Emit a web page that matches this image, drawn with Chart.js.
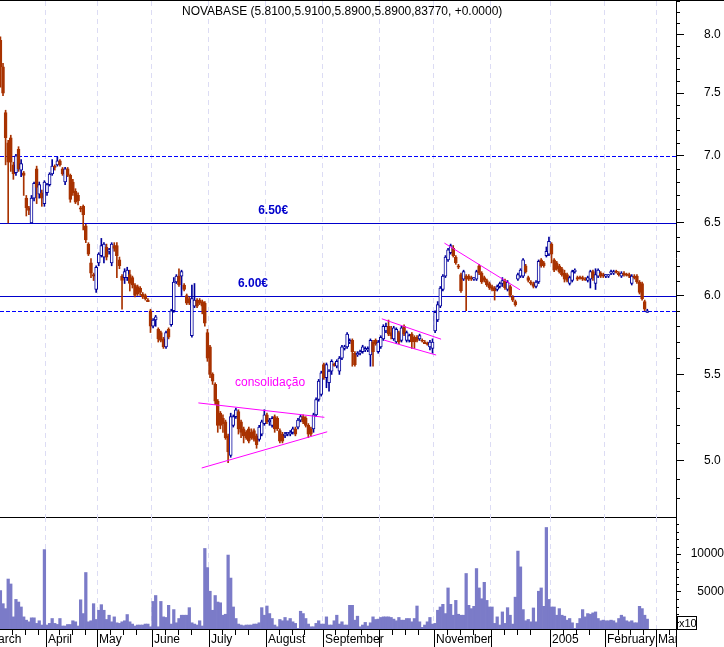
<!DOCTYPE html>
<html>
<head>
<meta charset="utf-8">
<script src="https://cdn.jsdelivr.net/npm/chart.js@4.4.1/dist/chart.umd.min.js"></script>
<style>
  html, body { margin: 0; padding: 0; background: #fff; }
  #wrap { position: relative; width: 724px; height: 647px; overflow: hidden; }
  #priceBox { position: absolute; left: 0; top: 0; width: 724px; height: 518px; }
  #volBox { position: absolute; left: 0; top: 517px; width: 724px; height: 130px; }
</style>
</head>
<body>
<div id="wrap">
  <div id="priceBox"><canvas id="priceChart" width="724" height="518"></canvas></div>
  <div id="volBox"><canvas id="volChart" width="724" height="130"></canvas></div>
</div>
<script>
// daily NOVABASE quotes, Mar 2004 - Feb 2005 (index = trading day)
const opens = [
  7.95,7.72,7.34,7.10,7.14,6.93,6.87,7.05,6.89,6.87, 6.68,6.61,6.50,6.68,6.90,6.71,6.72,6.64,6.72,6.78,
  6.86,6.92,6.93,6.96,6.90,6.80,6.90,6.85,6.80,6.73, 6.70,6.61,6.62,6.48,6.35,6.22,6.14,6.04,6.22,6.27,
  6.26,6.33,6.30,6.22,6.34,6.34,6.24,6.13,6.12,6.12, 6.14,6.12,6.07,6.06,6.05,6.01,6.00,5.97,5.90,5.80,
  5.84,5.78,5.76,5.72,5.67,5.78,5.81,5.90,6.09,6.13, 6.13,6.07,6.00,5.98,5.74,5.93,5.97,5.97,5.96,5.95,
  5.76,5.67,5.50,5.44,5.34,5.27,5.24,5.22,5.14,5.03, 5.20,5.25,5.28,5.22,5.18,5.16,5.18,5.16,5.17,5.14,
  5.12,5.15,5.21,5.26,5.22,5.20,5.25,5.24,5.17,5.15, 5.14,5.15,5.15,5.16,5.18,5.19,5.23,5.25,5.24,5.20,
  5.18,5.18,5.26,5.35,5.38,5.56,5.48,5.45,5.52,5.56, 5.55,5.52,5.60,5.66,5.67,5.70,5.71,5.63,5.62,5.63,
  5.64,5.65,5.65,5.62,5.70,5.71,5.64,5.67,5.72,5.77, 5.80,5.76,5.72,5.70,5.76,5.71,5.80,5.71,5.71,5.75,
  5.73,5.73,5.72,5.71,5.70,5.69,5.67,5.66,5.77,5.84, 5.93,6.04,6.13,6.24,6.29,6.32,6.26,6.20,6.14,6.11,
  6.13,6.13,6.12,6.11,6.11,6.20,6.15,6.12,6.10,6.08, 6.06,6.05,6.04,6.06,6.08,6.10,6.04,6.06,5.99,5.96,
  6.11,6.13,6.13,6.20,6.12,6.09,6.08,6.06,6.09,6.24, 6.22,6.27,6.28,6.35,6.24,6.22,6.20,6.18,6.15,6.14,
  6.08,6.10,6.16,6.12,6.12,6.12,6.11,6.10,6.11,6.16, 6.08,6.13,6.15,6.14,6.13,6.13,6.15,6.15,6.16,6.15,
  6.13,6.15,6.14,6.14,6.08,6.13,6.13,6.09,6.08,5.96, 5.89
];
const highs = [
  7.98,7.75,7.36,7.12,7.16,6.95,7.01,7.07,6.97,6.88, 6.70,6.62,6.70,6.80,6.92,6.80,6.74,6.81,6.79,6.87,
  6.97,6.93,6.99,6.97,6.91,6.91,6.91,6.86,6.82,6.75, 6.72,6.62,6.63,6.49,6.36,6.25,6.15,6.20,6.29,6.39,
  6.36,6.35,6.32,6.36,6.36,6.36,6.26,6.14,6.18,6.19, 6.17,6.13,6.08,6.07,6.06,6.02,6.01,5.98,5.91,5.85,
  5.87,5.79,5.77,5.73,5.77,5.79,5.91,6.12,6.14,6.18, 6.17,6.08,6.01,5.99,6.07,6.08,5.98,5.98,5.97,5.96,
  5.78,5.68,5.51,5.45,5.35,5.28,5.26,5.23,5.15,5.27, 5.26,5.30,5.29,5.23,5.19,5.17,5.19,5.18,5.18,5.15,
  5.20,5.23,5.29,5.27,5.24,5.25,5.26,5.25,5.18,5.16, 5.16,5.16,5.17,5.19,5.19,5.24,5.26,5.26,5.25,5.21,
  5.19,5.27,5.36,5.47,5.52,5.57,5.57,5.53,5.59,5.57, 5.59,5.61,5.68,5.68,5.76,5.72,5.72,5.64,5.64,5.65,
  5.68,5.67,5.67,5.72,5.71,5.72,5.71,5.74,5.81,5.82, 5.84,5.80,5.80,5.79,5.77,5.80,5.81,5.77,5.75,5.76,
  5.74,5.74,5.75,5.72,5.71,5.70,5.71,5.72,5.90,5.96, 6.06,6.14,6.27,6.32,6.35,6.34,6.27,6.21,6.15,6.17,
  6.14,6.14,6.13,6.12,6.17,6.21,6.16,6.13,6.11,6.09, 6.07,6.06,6.07,6.09,6.12,6.11,6.10,6.07,6.00,5.97,
  6.15,6.18,6.25,6.21,6.13,6.10,6.09,6.10,6.24,6.25, 6.23,6.33,6.40,6.36,6.25,6.23,6.21,6.19,6.17,6.15,
  6.13,6.17,6.18,6.13,6.13,6.13,6.12,6.13,6.17,6.17, 6.18,6.18,6.16,6.15,6.14,6.14,6.17,6.17,6.17,6.16,
  6.16,6.16,6.15,6.15,6.14,6.14,6.14,6.10,6.09,5.97, 5.91
];
const lows = [
  7.55,7.48,6.93,6.50,6.88,6.82,6.85,6.88,6.84,6.70, 6.55,6.56,6.50,6.66,6.64,6.68,6.62,6.62,6.70,6.77,
  6.85,6.89,6.92,6.92,6.85,6.78,6.84,6.65,6.70,6.64, 6.63,6.58,6.45,6.36,6.27,6.12,6.10,6.02,6.20,6.26,
  6.22,6.24,6.28,6.20,6.30,6.12,6.18,5.91,6.08,6.10, 6.03,6.05,5.99,6.00,6.00,5.98,5.97,5.96,5.76,5.79,
  5.80,5.70,5.70,5.66,5.66,5.72,5.80,5.89,6.08,6.06, 6.00,6.03,5.94,5.94,5.73,5.92,5.92,5.94,5.88,5.80,
  5.58,5.48,5.44,5.32,5.16,5.18,5.16,5.12,4.99,5.02, 5.19,5.24,5.15,5.13,5.10,5.12,5.10,5.12,5.11,5.07,
  5.11,5.14,5.20,5.21,5.20,5.19,5.16,5.17,5.10,5.10, 5.13,5.14,5.14,5.15,5.14,5.18,5.22,5.21,5.19,5.13,
  5.14,5.16,5.25,5.34,5.37,5.47,5.42,5.40,5.50,5.55, 5.54,5.50,5.59,5.65,5.66,5.69,5.55,5.55,5.61,5.62,
  5.63,5.64,5.64,5.55,5.55,5.68,5.63,5.66,5.71,5.76, 5.74,5.72,5.71,5.69,5.69,5.70,5.74,5.70,5.70,5.66,
  5.66,5.70,5.71,5.70,5.69,5.68,5.65,5.63,5.76,5.83, 5.92,6.03,6.12,6.23,6.28,6.26,6.21,6.18,6.02,6.10,
  5.90,6.10,6.10,6.10,6.10,6.14,6.08,6.09,6.06,6.04, 6.03,5.97,6.03,6.05,6.06,6.04,6.03,5.99,5.96,5.93,
  6.10,6.12,6.12,6.15,6.09,6.07,6.05,6.05,6.08,6.19, 6.19,6.26,6.27,6.22,6.16,6.17,6.15,6.13,6.09,6.09,
  6.07,6.09,6.15,6.10,6.11,6.10,6.10,6.09,6.05,6.10, 6.04,6.12,6.12,6.12,6.12,6.12,6.14,6.14,6.15,6.13,
  6.12,6.13,6.13,6.12,6.07,6.11,6.08,6.01,5.97,5.90, 5.89
];
const closes = [
  7.72,7.50,7.14,6.95,6.95,6.86,7.00,6.90,6.94,6.85, 6.61,6.59,6.68,6.79,6.76,6.78,6.68,6.80,6.78,6.86,
  6.92,6.91,6.96,6.93,6.86,6.90,6.85,6.67,6.72,6.65, 6.66,6.60,6.56,6.38,6.28,6.15,6.13,6.19,6.28,6.34,
  6.35,6.26,6.31,6.35,6.32,6.27,6.20,6.10,6.16,6.17, 6.08,6.07,6.00,6.01,6.02,5.99,5.98,5.96,5.80,5.84,
  5.86,5.72,5.71,5.67,5.76,5.73,5.90,6.09,6.13,6.07, 6.16,6.04,5.95,5.95,5.98,5.97,5.93,5.95,5.93,5.82,
  5.60,5.50,5.46,5.34,5.20,5.20,5.21,5.13,5.05,5.25, 5.25,5.29,5.18,5.16,5.14,5.13,5.11,5.13,5.12,5.09,
  5.19,5.22,5.26,5.22,5.23,5.24,5.18,5.18,5.11,5.11, 5.15,5.16,5.16,5.18,5.15,5.23,5.25,5.22,5.20,5.15,
  5.15,5.26,5.35,5.46,5.51,5.48,5.56,5.52,5.58,5.555, 5.58,5.60,5.67,5.67,5.75,5.71,5.64,5.56,5.63,5.64,
  5.67,5.66,5.66,5.71,5.64,5.69,5.70,5.73,5.80,5.80, 5.75,5.74,5.79,5.78,5.70,5.79,5.75,5.76,5.74,5.70,
  5.70,5.71,5.74,5.705,5.69,5.685,5.70,5.70,5.89,5.94, 6.05,6.13,6.26,6.31,6.34,6.27,6.22,6.19,6.03,6.16,
  6.11,6.11,6.11,6.12,6.16,6.15,6.09,6.10,6.07,6.05, 6.04,6.03,6.06,6.08,6.10,6.05,6.09,6.00,5.97,5.94,
  6.14,6.17,6.24,6.16,6.10,6.08,6.06,6.09,6.23,6.20, 6.20,6.30,6.37,6.28,6.17,6.18,6.16,6.14,6.11,6.10,
  6.12,6.16,6.17,6.11,6.115,6.11,6.105,6.12,6.16,6.12, 6.14,6.17,6.13,6.13,6.14,6.14,6.16,6.16,6.155,6.14,
  6.15,6.14,6.135,6.13,6.13,6.12,6.09,6.02,5.98,5.91, 5.90
];
// volume in units of 10 shares
const volumes = [
  5130,3380,2720,6670,6010,1620,3950,3600,2940,1620, 1180,960,1490,1490,750,1100,530,10600,530,750,
  1400,750,610,1400,400,400,600,600,1100,960, 400,3900,2060,7540,960,1100,3380,1270,2500,3250,
  2500,1270,1840,960,1620,830,750,960,1100,1930, 960,660,400,530,530,530,660,660,300,3680,
  4470,300,3680,1620,1540,3160,660,2590,830,1400, 1840,1840,1840,2850,830,660,530,1100,400,10750,
  8200,5040,2500,4470,3600,3500,1840,1970,9870,6800, 2940,1400,660,530,440,530,530,530,660,660,
  830,2850,1840,3070,2060,1400,530,300,1270,1100, 1540,1100,1400,960,750,90,2370,2060,1400,660,
  300,300,750,1100,660,660,1620,530,530,1100, 1840,660,960,530,530,3160,3160,1180,1710,300,
  530,880,400,830,1620,1270,1320,1540,1620,1620, 1620,1540,1320,1100,1540,1180,1180,1400,1400,960,
  1400,3070,960,220,530,960,1540,660,750,2500, 2940,3290,2060,5480,3290,1840,3820,1970,1840,1840,
  7410,3160,2720,3030,8070,5480,4040,6230,3820,2940, 2940,750,1620,530,2280,750,2850,1840,660,4250,
  10400,8290,2590,1100,1270,960,2810,960,5040,5480, 3030,13550,3950,2940,2940,1840,2720,1840,1710,1180,
  1400,830,90,750,1400,2590,1620,2060,1970,2150, 2280,1400,1100,1180,1100,1100,1180,1100,830,1400,
  1840,1620,1100,960,1100,830,830,3030,2720,1840, 1320
];

const monthNames = ['March','April','May','June','July','August','September','','November','','2005','February','March'];
const monthStarts = [-5.5,17.5,37.5,58.5,80.5,102.5,124.5,146.5,167.5,189.5,212.5,233.5,253.5];
const weekTicks = [4.5,9.5,14.5,22.5,27.5,32.5,42.5,47.5,52.5,63.5,68.5,73.5,85.5,90.5,95.5,107.5,112.5,117.5,
  129.5,134.5,139.5,151.5,156.5,161.5,172.5,177.5,182.5,194.5,199.5,204.5,217.5,222.5,227.5,238.5,243.5,248.5,258.5];

const priceTicks = [5.0,5.5,6.0,6.5,7.0,7.5,8.0];
const refLevels = [7.0, 6.5, 6.0, 5.9];
const refDashed = [true, false, false, true];
// trend lines drawn on the chart: [day index, price]
const trendLines = [
  [[76.5,5.33],[125.2,5.246]],
  [[77.8,4.961],[126.3,5.163]],
  [[147.4,5.848],[170.3,5.718]],
  [[148.3,5.712],[168.4,5.619]],
  [[171.6,6.357],[200.8,6.038]]
];
const volTicks = [5000, 10000];

const xMin = -0.166, xMax = 261.1;
const upColor = '#00009c', downColor = '#a83200', volColor = '#7b7bc8';
const FONT = '"Liberation Sans", Arial, sans-serif';

Chart.defaults.font.family = FONT;
Chart.defaults.font.size = 12;
Chart.defaults.color = '#000';

const idx = opens.map((_, i) => i);
const isUp = i => closes[i] >= opens[i];
const candleColor = idx.map(i => isUp(i) ? upColor : downColor);
const bodyFill = idx.map(i => isUp(i) ? '#ffffff' : downColor);

function noPad(s) { s.paddingTop = 0; s.paddingBottom = 0; s.paddingLeft = 0; s.paddingRight = 0; }

function xAxis(h) {
  return {
    type: 'linear', min: xMin, max: xMax, offset: false,
    afterBuildTicks: s => { s.ticks = monthStarts.filter(v => v > xMin && v < xMax).map(v => ({value: v})); },
    afterFit: s => { s.height = h; noPad(s); },
    ticks: {display: false},
    grid: {color: '#dcdcf4', drawTicks: false, lineWidth: 1, offset: false},
    border: {display: false, dash: [5, 4]}
  };
}

const priceDecor = {
  id: 'priceDecor',
  beforeDatasetsDraw(chart) {
    // horizontal price levels, snapped to whole pixels
    const {ctx, chartArea: a, scales: {y}} = chart;
    ctx.save();
    ctx.lineWidth = 1;
    refLevels.forEach((lv, k) => {
      const py = Math.round(y.getPixelForValue(lv)) + 0.5;
      ctx.strokeStyle = refDashed[k] ? '#0000ff' : '#0000cc';
      ctx.setLineDash(refDashed[k] ? [4, 2] : []);
      ctx.beginPath();
      ctx.moveTo(a.left, py); ctx.lineTo(a.right, py);
      ctx.stroke();
    });
    ctx.restore();
  },
  afterDraw(chart) {
    const {ctx, chartArea: a, scales: {x, y}} = chart;
    ctx.save();
    ctx.strokeStyle = '#000';
    ctx.lineWidth = 1;
    ctx.beginPath();
    ctx.moveTo(0, 0.5); ctx.lineTo(chart.width, 0.5);
    ctx.moveTo(0, a.bottom + 0.5); ctx.lineTo(a.right, a.bottom + 0.5);
    ctx.moveTo(a.right + 0.5, 0); ctx.lineTo(a.right + 0.5, a.bottom);
    // minor ticks every 0.1
    for (let k = 48; k <= 83; k++) {
      if (k % 5 === 0) continue;
      const py = Math.round(y.getPixelForValue(k / 10)) + 0.5;
      if (py < a.top || py > a.bottom) continue;
      ctx.moveTo(a.right, py); ctx.lineTo(a.right + 4, py);
    }
    ctx.stroke();

    ctx.textAlign = 'center';
    ctx.textBaseline = 'middle';
    ctx.font = 'bold 12px ' + FONT;
    ctx.fillStyle = '#0000cc';
    ctx.fillText('6.50€', x.getPixelForValue(105.4), y.getPixelForValue(6.59));
    ctx.fillText('6.00€', x.getPixelForValue(97.6), y.getPixelForValue(6.08));
    ctx.font = '12px ' + FONT;
    ctx.fillStyle = '#ff00ff';
    ctx.fillText('consolidação', x.getPixelForValue(104.2), y.getPixelForValue(5.45));

    ctx.textAlign = 'left';
    ctx.textBaseline = 'alphabetic';
    ctx.fillStyle = '#000';
    ctx.fillText('NOVABASE (5.8100,5.9100,5.8900,5.8900,83770, +0.0000)', 182, 15);
    ctx.restore();
  }
};

new Chart(document.getElementById('priceChart'), {
  type: 'bar',
  data: {
    datasets: [
      ...trendLines.map(t => ({
        type: 'line', data: t.map(p => ({x: p[0], y: p[1]})),
        borderColor: '#ff00ff', borderWidth: 1, pointRadius: 0, order: 0
      })),
      {
        type: 'bar', data: idx.map(i => ({x: i, y: [opens[i], closes[i]]})),
        backgroundColor: bodyFill, borderColor: candleColor, borderWidth: 1, borderSkipped: false,
        barThickness: 3, minBarLength: 1, grouped: false, order: 1
      },
      {
        type: 'bar', data: idx.map(i => ({x: i, y: [lows[i], highs[i]]})),
        backgroundColor: candleColor, borderWidth: 0, barThickness: 1, grouped: false, order: 2
      }
    ]
  },
  options: {
    responsive: false, animation: false, events: [],
    layout: {padding: {top: 1, bottom: 1, left: 0, right: 0}},
    plugins: {legend: {display: false}, tooltip: {enabled: false}},
    scales: {
      x: xAxis(0),
      y: {
        type: 'logarithmic', position: 'right', min: 4.732, max: 8.302,
        afterBuildTicks: s => { s.ticks = priceTicks.map(v => ({value: v})); },
        afterFit: s => { s.width = 48; noPad(s); },
        ticks: {callback: v => Number(v).toFixed(1), padding: 20, autoSkip: false, font: {size: 12}},
        grid: {drawOnChartArea: false, tickLength: 8, tickColor: '#000'},
        border: {display: false}
      }
    }
  },
  plugins: [priceDecor]
});

const volDecor = {
  id: 'volDecor',
  afterDraw(chart) {
    const {ctx, chartArea: a, scales: {x, y}} = chart;
    ctx.save();
    ctx.strokeStyle = '#000';
    ctx.lineWidth = 1;
    ctx.beginPath();
    ctx.moveTo(0, a.bottom + 0.5); ctx.lineTo(a.right, a.bottom + 0.5);
    ctx.moveTo(a.right + 0.5, 0); ctx.lineTo(a.right + 0.5, chart.height);
    for (let v = 1000; v < 15000; v += 1000) {
      if (v % 5000 === 0) continue;
      const py = Math.round(y.getPixelForValue(v)) + 0.5;
      ctx.moveTo(a.right, py); ctx.lineTo(a.right + 3, py);
    }
    ctx.stroke();

    // x10 box
    ctx.strokeRect(a.right + 1.5, a.bottom - 12.5, 19, 13);
    ctx.font = '11px ' + FONT;
    ctx.fillStyle = '#000';
    ctx.textAlign = 'left';
    ctx.fillText('x10', a.right + 3, a.bottom - 2);

    // time axis
    ctx.beginPath();
    ctx.rect(0, 0, a.right, chart.height);
    ctx.clip();
    ctx.beginPath();
    weekTicks.forEach(w => {
      const px = Math.round(x.getPixelForValue(w)) + 0.5;
      ctx.moveTo(px, a.bottom); ctx.lineTo(px, a.bottom + 6);
    });
    monthStarts.forEach(m => {
      const px = Math.round(x.getPixelForValue(m)) + 0.5;
      ctx.moveTo(px, a.bottom); ctx.lineTo(px, chart.height);
    });
    ctx.stroke();
    ctx.font = '12px ' + FONT;
    monthStarts.forEach((m, k) => {
      if (!monthNames[k]) return;
      ctx.fillText(monthNames[k], Math.round(x.getPixelForValue(m)) + 2, a.bottom + 14);
    });
    ctx.restore();
  }
};

new Chart(document.getElementById('volChart'), {
  type: 'bar',
  data: {
    datasets: [{
      data: volumes.map((v, i) => ({x: i, y: v})),
      backgroundColor: volColor, borderWidth: 0,
      barPercentage: 1, categoryPercentage: 1
    }]
  },
  options: {
    responsive: false, animation: false, events: [],
    layout: {padding: 0},
    plugins: {legend: {display: false}, tooltip: {enabled: false}},
    scales: {
      x: xAxis(18),
      y: {
        type: 'linear', position: 'right', min: 0, max: 14950,
        afterBuildTicks: s => { s.ticks = volTicks.map(v => ({value: v})); },
        afterFit: s => { s.width = 48; noPad(s); },
        ticks: {callback: v => String(v), crossAlign: 'far', padding: 6, autoSkip: false, font: {size: 12}},
        grid: {drawOnChartArea: false, tickLength: 5, tickColor: '#000'},
        border: {display: false}
      }
    }
  },
  plugins: [volDecor]
});
</script>
</body>
</html>
